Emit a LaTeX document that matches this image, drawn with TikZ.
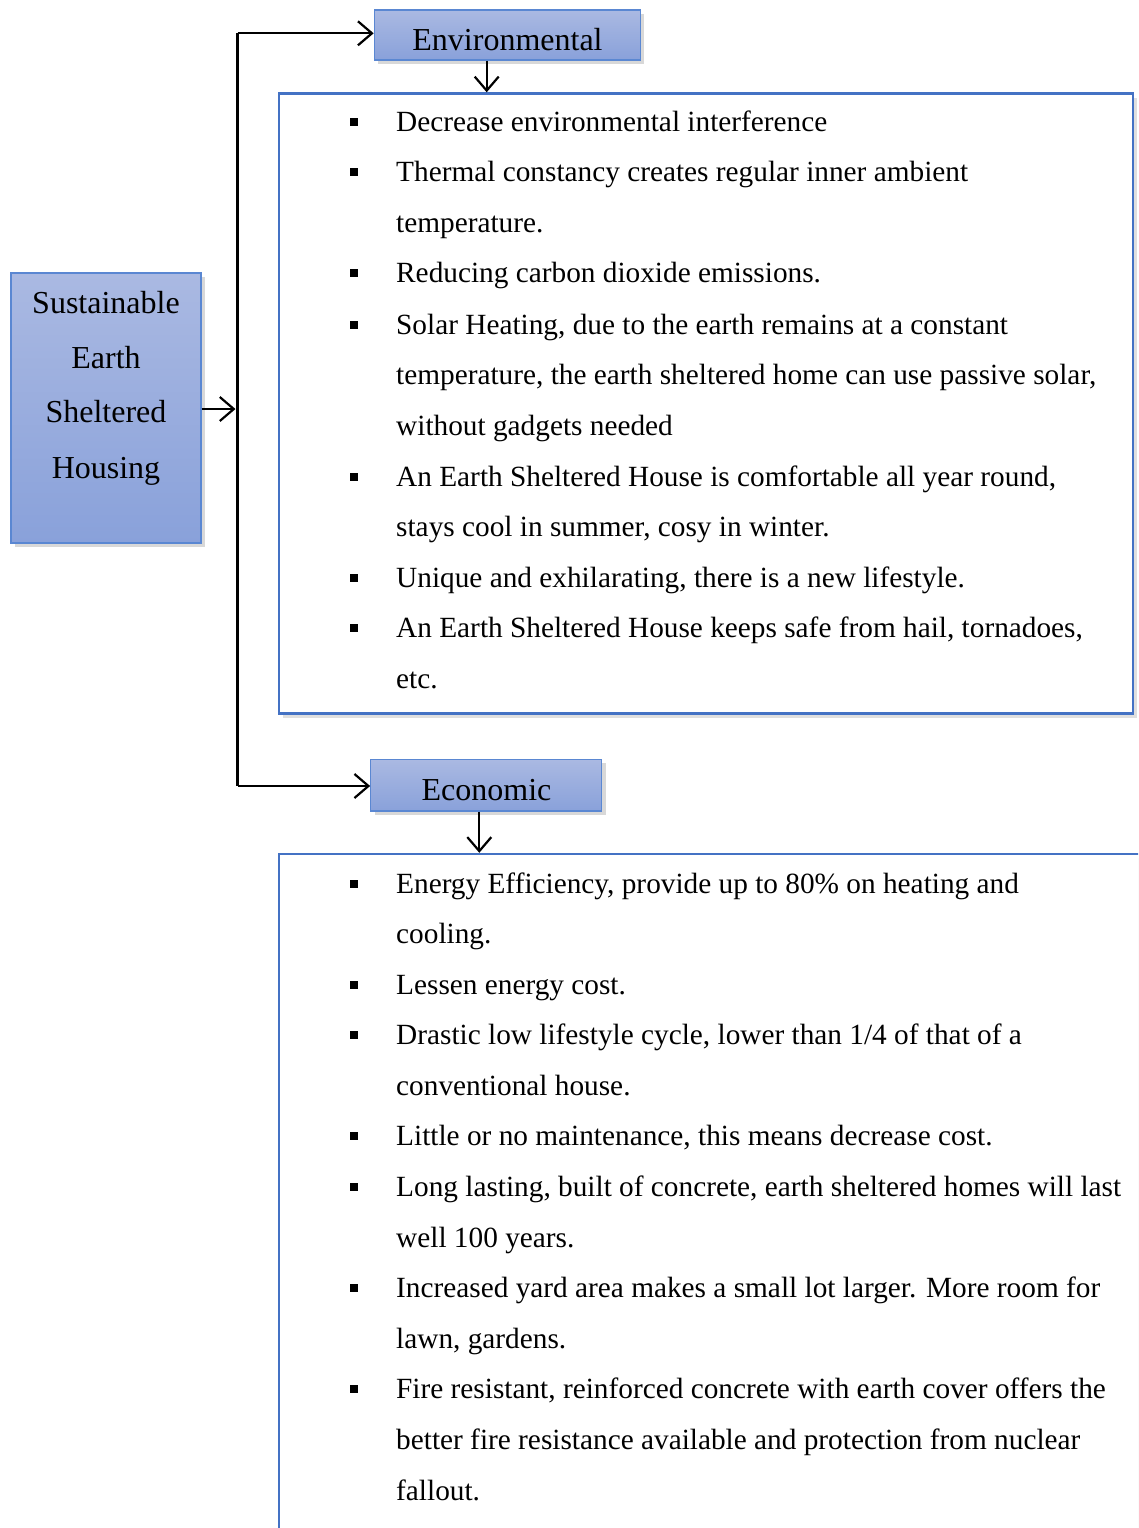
\documentclass[tikz,border=0pt]{standalone}
\usepackage{fontspec}
\setmainfont{Liberation Serif}
\usetikzlibrary{arrows.meta,shadows}
\definecolor{boxtop}{HTML}{AAB9E2}
\definecolor{boxbot}{HTML}{89A1DA}
\definecolor{boxline}{HTML}{5A87D2}
\definecolor{listline}{HTML}{4472C4}
\begin{document}
\begin{tikzpicture}[x=1pt,y=-1pt,
  headbox/.style={rectangle,draw=boxline,line width=1.3pt,top color=boxtop,bottom color=boxbot,
    inner sep=0pt,drop shadow={shadow xshift=4pt,shadow yshift=-4pt,opacity=0.3}},
  listbox/.style={rectangle,draw=listline,line width=2.4pt,fill=white,inner sep=0pt,
    drop shadow={shadow xshift=4pt,shadow yshift=-4pt,opacity=0.25}},
  headtext/.style={anchor=base,inner sep=0pt,font=\fontsize{32}{38}\selectfont},
  listtext/.style={anchor=base west,inner sep=0pt,font=\fontsize{29.3}{35}\selectfont},
  bulletsq/.style={rectangle,fill=black,minimum width=8pt,minimum height=7.5pt,inner sep=0pt},
  conn/.style={line width=2.2pt,black},
  arr/.style={conn,-{Straight Barb[length=14pt,width=24pt,line width=2.2pt]}}]
\clip (0,0) rectangle (1138,1528);
\fill[white] (0,0) rectangle (1138,1528);
% main box
\node[headbox,minimum width=190pt,minimum height=270pt] (main) at (106,408) {};
\foreach \yy/\txt [count=\i] in {313.3/Sustainable,368.3/Earth,422.7/Sheltered,478.3/Housing}
  \node[headtext] (m\i) at (106,\yy) {\txt};
% headers
\node[headbox,minimum width=266pt,minimum height=50pt] (env) at (507.3,35) {};
\node[headtext] (envt) at (507.5,50.5) {Environmental};
\node[headbox,minimum width=231pt,minimum height=51.5pt] (eco) at (486.3,785.2) {};
\node[headtext] (ecot) at (486.5,800.7) {Economic};
% list boxes
\node[listbox,minimum width=854pt,minimum height=620pt] (envlist) at (706,403.5) {};
\node[listbox,minimum width=900pt,minimum height=740pt] (ecolist) at (729,1224) {};
% connectors
\coordinate (spinetop) at (237.5,33.3);
\coordinate (spinebot) at (237.5,786);
\coordinate (spinemid) at (237.5,409);
\draw[conn] (spinetop) -- (spinebot);
\draw[arr] (main.east |- spinemid) -- ([xshift=-2pt]spinemid);
\draw[arr] (spinetop) -- (spinetop -| env.west);
\draw[arr] (spinebot) -- (spinebot -| eco.west);
\draw[arr] ([xshift=-20.6pt]env.south) -- ([xshift=-20.6pt]env.south |- envlist.north);
\draw[arr] ([xshift=-7pt]eco.south) -- ([xshift=-7pt]eco.south |- ecolist.north);
% environmental list
\foreach \yy/\bb/\txt [count=\i] in {
  122/1/{Decrease environmental interference},
  172/1/{Thermal constancy creates regular inner ambient},
  223/0/{temperature.},
  273/1/{Reducing carbon dioxide emissions.},
  325/1/{Solar Heating, due to the earth remains at a constant},
  375/0/{temperature, the earth sheltered home can use passive solar,},
  426/0/{without gadgets needed},
  477/1/{An Earth Sheltered House is comfortable all year round,},
  527/0/{stays cool in summer, cosy in winter.},
  578/1/{Unique and exhilarating, there is a new lifestyle.},
  628/1/{An Earth Sheltered House keeps safe from hail, tornadoes,},
  679/0/{etc.}}{
  \node[listtext] (e\i) at (396,\yy+9.5) {\txt};
  \ifnum\bb=1 \node[bulletsq] (eb\i) at (354,\yy) {};\fi
}
% economic list
\foreach \yy/\bb/\txt [count=\i] in {
  884/1/{Energy Efficiency, provide up to 80\% on heating and},
  934/0/{cooling.},
  985/1/{Lessen energy cost.},
  1035/1/{Drastic low lifestyle cycle, lower than 1/4 of that of a},
  1086/0/{conventional house.},
  1136/1/{Little or no maintenance, this means decrease cost.},
  1187/1/{Long lasting, built of concrete, earth sheltered homes will last},
  1238/0/{well 100 years.},
  1288/1/{Increased yard area makes a small lot larger. More room for},
  1339/0/{lawn, gardens.},
  1389/1/{Fire resistant, reinforced concrete with earth cover offers the},
  1440/0/{better fire resistance available and protection from nuclear},
  1491/0/{fallout.}}{
  \node[listtext] (c\i) at (396,\yy+9.5) {\txt};
  \ifnum\bb=1 \node[bulletsq] (cb\i) at (354,\yy) {};\fi
}
\end{tikzpicture}
\end{document}
